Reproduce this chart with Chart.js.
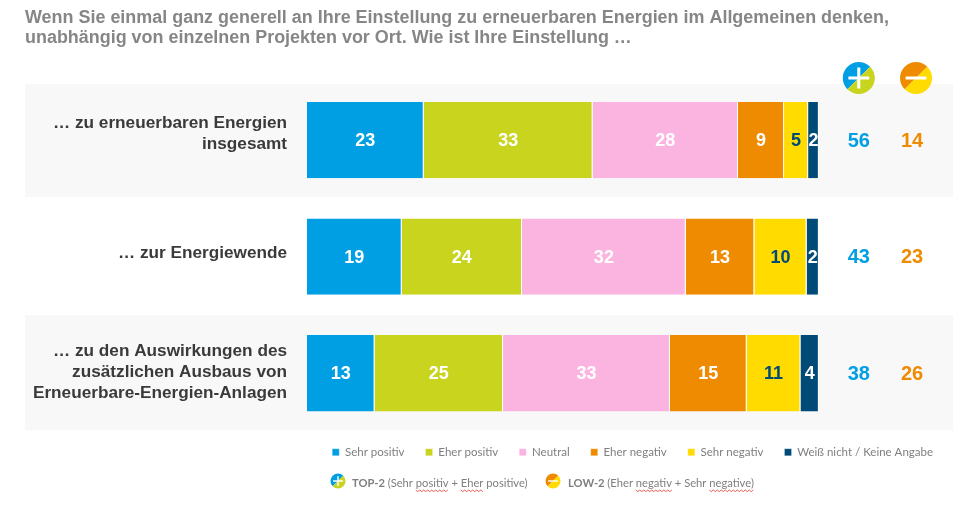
<!DOCTYPE html>
<html lang="de">
<head>
<meta charset="utf-8">
<title>Einstellung zu erneuerbaren Energien</title>
<script src="https://cdn.jsdelivr.net/npm/chart.js@4/dist/chart.umd.min.js"></script>
<style>
  html, body { margin: 0; padding: 0; background: #fff; }
  canvas { display: block; }
</style>
</head>
<body>
<canvas id="grafik" width="956" height="505"></canvas>
<script>
const fragen = [
    ['… zu erneuerbaren Energien', 'insgesamt'],
    ['… zur Energiewende'],
    ['… zu den Auswirkungen des', 'zusätzlichen Ausbaus von', 'Erneuerbare-Energien-Anlagen']
];
const sehrPositiv = [22.8, 18.5, 13.2];
const eherPositiv = [33.0, 23.5, 25.1];
const neutral = [28.4, 32.0, 32.6];
const eherNegativ = [9.0, 13.4, 15.0];
const sehrNegativ = [4.7, 10.2, 10.5];
const keineAngabe = [2.1, 2.4, 3.6];
const top2 = [56, 43, 38];
const low2 = [14, 23, 26];

const BLAU = '#009fe3', GRUEN = '#c8d41e', ROSA = '#fbb4e0', ORANGE = '#ee8b00', GELB = '#ffdb00', NAVY = '#004a78';
const ARIAL = '"Liberation Sans", Arial, sans-serif';

function reihe(label, data, farbe) {
    return {
        label, data, backgroundColor: farbe,
        borderColor: '#fff',
        borderWidth: { right: 1, left: 0, top: 0, bottom: 0 },
        borderSkipped: false
    };
}

// runde Symbole oben und in der Fusszeile
function symbol(ctx, x, y, r, farbe1, farbe2, plus) {
    ctx.fillStyle = farbe1;
    ctx.beginPath();
    ctx.arc(x, y, r, Math.PI * 0.75, Math.PI * 1.75);
    ctx.fill();
    ctx.fillStyle = farbe2;
    ctx.beginPath();
    ctx.arc(x, y, r, Math.PI * 1.75, Math.PI * 2.75);
    ctx.fill();
    const a = r * 0.65;
    ctx.strokeStyle = '#fff';
    ctx.lineWidth = r * 0.19;
    ctx.beginPath();
    ctx.moveTo(x - a, y);
    ctx.lineTo(x + a, y);
    if (plus) {
        ctx.moveTo(x, y - a);
        ctx.lineTo(x, y + a);
    }
    ctx.stroke();
}

// rote Wellenlinie der Rechtschreibpruefung
function welle(ctx, x1, x2, y) {
    ctx.strokeStyle = '#e0392b';
    ctx.lineWidth = 0.8;
    ctx.beginPath();
    let oben = true;
    for (let x = x1; x <= x2; x += 2) {
        ctx.lineTo(x, oben ? y : y + 1.6);
        oben = !oben;
    }
    ctx.stroke();
}

function fussText(ctx, x, y, fett, teile) {
    ctx.textAlign = 'left';
    ctx.textBaseline = 'middle';
    ctx.fillStyle = '#7f7f7f';
    ctx.font = 'bold 11.2px Lato, sans-serif';
    ctx.fillText(fett, x, y);
    x += ctx.measureText(fett + ' ').width;
    ctx.font = '11.2px Lato, sans-serif';
    teile.forEach(([text, rot]) => {
        const w = ctx.measureText(text).width;
        ctx.fillStyle = '#7f7f7f';
        ctx.fillText(text, x, y);
        if (rot) welle(ctx, x, x + w, y + 7);
        x += w + ctx.measureText(' ').width;
    });
}

const baender = {
    id: 'baender',
    afterLayout(chart) {
        // Legende liegt etwas naeher an der Grafik
        chart.legend.top -= 6;
    },
    beforeDatasetsDraw(chart) {
        const { ctx, chartArea, scales: { y } } = chart;
        ctx.save();
        ctx.fillStyle = '#f8f8f8';
        const breite = chartArea.right - 1 - y.left;
        ctx.fillRect(y.left, y.getPixelForValue(0) - 56, breite, 113);
        ctx.fillRect(y.left, y.getPixelForValue(2) - 58, breite, 115);
        ctx.restore();
    }
};

const beschriftung = {
    id: 'beschriftung',
    afterDraw(chart) {
        const { ctx, scales: { x, y } } = chart;
        ctx.save();
        ctx.textAlign = 'center';
        ctx.textBaseline = 'middle';

        ctx.font = 'bold 18px ' + ARIAL;
        chart.data.datasets.forEach((ds, d) => {
            chart.getDatasetMeta(d).data.forEach((bar, i) => {
                const p = bar.getCenterPoint();
                ctx.fillStyle = ds.label === 'Sehr negativ' ? NAVY : '#fff';
                ctx.fillText(Math.round(ds.data[i]), p.x, p.y + 1);
            });
        });

        const xTop = x.getPixelForValue(107.8);
        const xLow = x.getPixelForValue(118.2);
        ctx.font = 'bold 20px ' + ARIAL;
        top2.forEach((wert, i) => {
            ctx.fillStyle = BLAU;
            ctx.fillText(wert, xTop, y.getPixelForValue(i) + 1);
        });
        low2.forEach((wert, i) => {
            ctx.fillStyle = ORANGE;
            ctx.fillText(wert, xLow, y.getPixelForValue(i) + 1);
        });

        // Fragen links neben den Balken, je Zeile leicht nach oben versetzt
        const versatz = [-6.5, -3, -1];
        ctx.textAlign = 'right';
        ctx.fillStyle = '#3a3a3a';
        ctx.font = 'bold 17.2px ' + ARIAL;
        fragen.forEach((zeilen, i) => {
            const mitte = y.getPixelForValue(i) + versatz[i];
            zeilen.forEach((zeile, z) => {
                ctx.fillText(zeile, y.right - 20, mitte + (z - (zeilen.length - 1) / 2) * 21);
            });
        });
        ctx.textAlign = 'center';

        symbol(ctx, xTop, 78, 16, BLAU, GRUEN, true);
        symbol(ctx, xLow + 4, 78, 16, ORANGE, GELB, false);

        symbol(ctx, 338, 481, 7.5, BLAU, GRUEN, true);
        fussText(ctx, 352, 483, 'TOP-2', [['(Sehr', false], ['positiv', true], ['+', false], ['Eher', true], ['positive)', false]]);
        symbol(ctx, 553, 481, 7.5, ORANGE, GELB, false);
        fussText(ctx, 568, 483, 'LOW-2', [['(Eher', false], ['negativ', true], ['+', false], ['Sehr', false], ['negative)', true]]);
        ctx.restore();
    }
};

new Chart(document.getElementById('grafik'), {
    type: 'bar',
    data: {
        labels: fragen.map((zeilen) => zeilen.join(' ')),
        datasets: [
            reihe('Sehr positiv', sehrPositiv, BLAU),
            reihe('Eher positiv', eherPositiv, GRUEN),
            reihe('Neutral', neutral, ROSA),
            reihe('Eher negativ', eherNegativ, ORANGE),
            reihe('Sehr negativ', sehrNegativ, GELB),
            reihe('Weiß nicht / Keine Angabe', keineAngabe, NAVY)
        ]
    },
    options: {
        indexAxis: 'y',
        responsive: false,
        animation: false,
        layout: { padding: { left: 25, right: 2, top: 8, bottom: 31 } },
        datasets: { bar: { barPercentage: 0.655, categoryPercentage: 1 } },
        scales: {
            x: { stacked: true, display: false, min: 0, max: 126.4 },
            y: {
                stacked: true,
                afterFit: (scale) => { scale.width = 282; },
                grid: { display: false },
                border: { display: false },
                ticks: { display: false }
            }
        },
        plugins: {
            tooltip: { enabled: false },
            title: {
                display: true,
                align: 'start',
                text: [
                    'Wenn Sie einmal ganz generell an Ihre Einstellung zu erneuerbaren Energien im Allgemeinen denken,',
                    'unabhängig von einzelnen Projekten vor Ort. Wie ist Ihre Einstellung …'
                ],
                color: '#868686',
                padding: { top: 0, bottom: 34 },
                font: { family: ARIAL, size: 17.95, weight: 'bold', lineHeight: 1.11 }
            },
            legend: {
                position: 'bottom',
                align: 'end',
                labels: {
                    boxWidth: 7,
                    boxHeight: 7,
                    padding: 21,
                    color: '#7f7f7f',
                    font: { family: 'Lato, sans-serif', size: 11.5 }
                }
            }
        }
    },
    plugins: [baender, beschriftung]
});
</script>
</body>
</html>
